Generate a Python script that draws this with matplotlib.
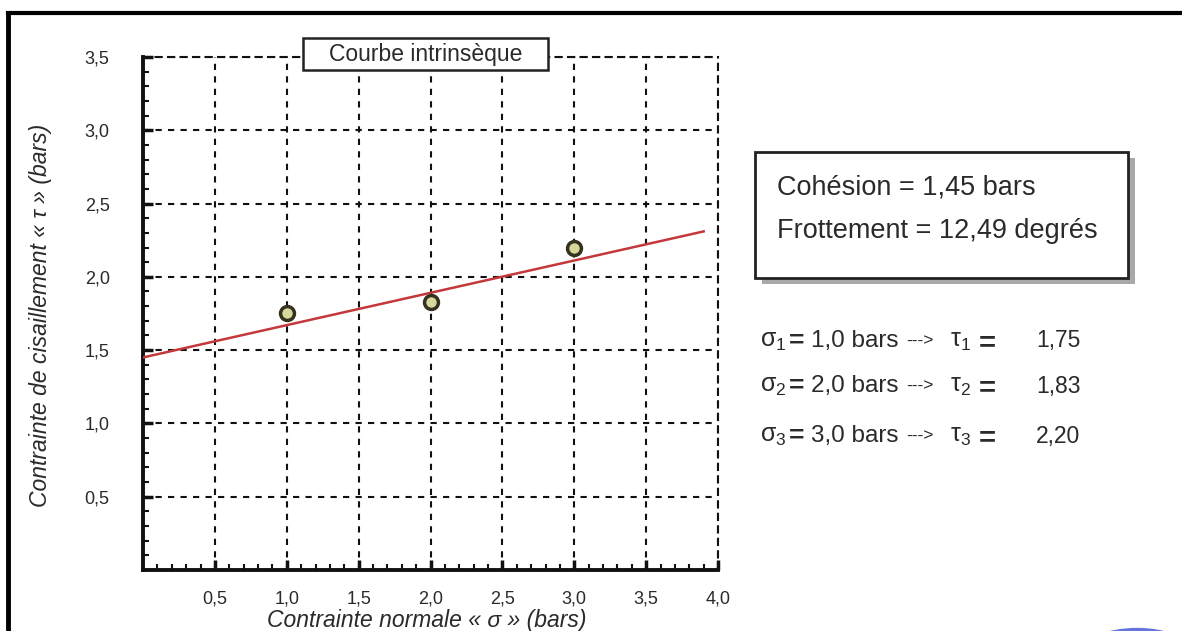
import matplotlib
matplotlib.use("Agg")
import matplotlib.pyplot as plt
from matplotlib.ticker import MultipleLocator
from matplotlib.patches import Rectangle, Ellipse
from matplotlib.lines import Line2D

plt.rcParams['font.family'] = ['Liberation Sans', 'DejaVu Sans']

# donnees
sigma = [1.0, 2.0, 3.0]          # contrainte normale (bars)
tau = [1.75, 1.83, 2.20]         # contrainte de cisaillement (bars)
line_x = [0.0, 3.9]              # droite intrinseque
line_y = [1.45, 2.31]
xticks = [0.5, 1.0, 1.5, 2.0, 2.5, 3.0, 3.5, 4.0]
xtick_labels = ['0,5', '1,0', '1,5', '2,0', '2,5', '3,0', '3,5', '4,0']
yticks = [0.5, 1.0, 1.5, 2.0, 2.5, 3.0, 3.5]
ytick_labels = ['0,5', '1,0', '1,5', '2,0', '2,5', '3,0', '3,5']
sigma_txt = ['1,0', '2,0', '3,0']
tau_txt = ['1,75', '1,83', '2,20']
cohesion_txt = 'Cohésion = 1,45 bars'
frottement_txt = 'Frottement = 12,49 degrés'

txt_col = '#2a2a2a'
W, H = 1182, 631

fig = plt.figure(figsize=(11.82, 6.31), dpi=100)
ax = fig.add_axes([0.121, 0.0967, 0.4865, 0.813])

ax.set_xlim(0, 4.0)
ax.set_ylim(0, 3.5)
ax.set_xticks(xticks)
ax.set_xticklabels(xtick_labels)
ax.set_yticks(yticks)
ax.set_yticklabels(ytick_labels)
ax.xaxis.set_minor_locator(MultipleLocator(0.1))
ax.yaxis.set_minor_locator(MultipleLocator(0.1))
ax.tick_params(which='major', direction='in', length=7, width=2.5,
               labelsize=13, labelcolor=txt_col, color='#111')
ax.tick_params(axis='y', which='major', pad=24)
ax.tick_params(axis='x', which='major', pad=15)
ax.tick_params(which='minor', direction='in', length=4, width=1.5, color='#111')

for s in ['left', 'bottom']:
    ax.spines[s].set_linewidth(2.8)
    ax.spines[s].set_color('#111')
for s in ['top', 'right']:
    ax.spines[s].set_linewidth(1.5)
    ax.spines[s].set_linestyle((0, (3, 3)))
    ax.spines[s].set_color('#111')

ax.grid(True, which='major', color='#111', linestyle=(0, (3, 3)), linewidth=1.5)
ax.set_axisbelow(True)

ax.plot(line_x, line_y, color='#c4383c', linewidth=1.8, zorder=3)
ax.plot(sigma, tau, linestyle='none', marker='o', markersize=10,
        markerfacecolor='#d9d89a', markeredgecolor='#333320',
        markeredgewidth=2.5, zorder=4)

# titre encadre
ax.add_patch(Rectangle((1.113, 3.41), 1.704, 0.22, facecolor='white',
                       edgecolor='#222', linewidth=1.8, clip_on=False, zorder=5))
ax.text(1.965, 3.52, 'Courbe intrinsèque', ha='center', va='center',
        fontsize=16.5, color=txt_col, zorder=6, clip_on=False)

fig.text(0.034, 0.50, 'Contrainte de cisaillement « τ » (bars)', rotation=90,
         ha='center', va='center', fontsize=16.5, style='italic', color=txt_col)
fig.text(0.361, 0.0174, 'Contrainte normale « σ » (bars)', ha='center',
         va='center', fontsize=16.5, style='italic', color=txt_col)

# cadre resultats avec ombre
fig.patches.append(Rectangle((0.6388 + 0.006, 0.5594 - 0.01), 0.3156, 0.1997,
                             transform=fig.transFigure, facecolor='#a8a8a8',
                             edgecolor='none', zorder=1))
fig.patches.append(Rectangle((0.6388, 0.5594), 0.3156, 0.1997,
                             transform=fig.transFigure, facecolor='white',
                             edgecolor='#222', linewidth=2, zorder=2))
fig.text(0.657, 1 - 188 / H, cohesion_txt, ha='left', va='center', fontsize=19.5,
         color=txt_col, zorder=3)
fig.text(0.657, 1 - 231 / H, frottement_txt, ha='left', va='center', fontsize=19.5,
         color=txt_col, zorder=3)

# mesures
for i, yp in enumerate([341, 386, 436]):
    y = 1 - yp / H
    fig.text(760 / W, y, r'$\mathregular{σ_%d}$' % (i + 1), ha='left', va='center',
             fontsize=18, color=txt_col)
    fig.text(789 / W, y, '=', ha='left', va='center', fontsize=19,
             fontweight='bold', color=txt_col)
    fig.text(811 / W, y, sigma_txt[i] + ' bars', ha='left', va='center',
             fontsize=17.5, color=txt_col)
    fig.text(906 / W, y, '--->', ha='left', va='center', fontsize=12.5,
             color=txt_col)
    fig.text(950 / W, y, r'$\mathregular{τ_%d}$' % (i + 1), ha='left', va='center',
             fontsize=18, color=txt_col)
    fig.text(979 / W, y - 2 / H, '=', ha='left', va='center', fontsize=21,
             fontweight='bold', color=txt_col)
    fig.text(1036 / W, y, tau_txt[i], ha='left', va='center', fontsize=16.5,
             color=txt_col)

# cadre exterieur
fig.lines.append(Line2D([0.007, 1.0], [0.980, 0.980], transform=fig.transFigure,
                        color='black', linewidth=3))
fig.lines.append(Line2D([0.007, 0.007], [0.0, 0.980], transform=fig.transFigure,
                        color='black', linewidth=3.5))
fig.patches.append(Ellipse((0.962, -0.035), 0.095, 0.08, transform=fig.transFigure,
                           facecolor='#4a5bd6', edgecolor='none', alpha=0.85))

fig.savefig('out.png', dpi=100)
